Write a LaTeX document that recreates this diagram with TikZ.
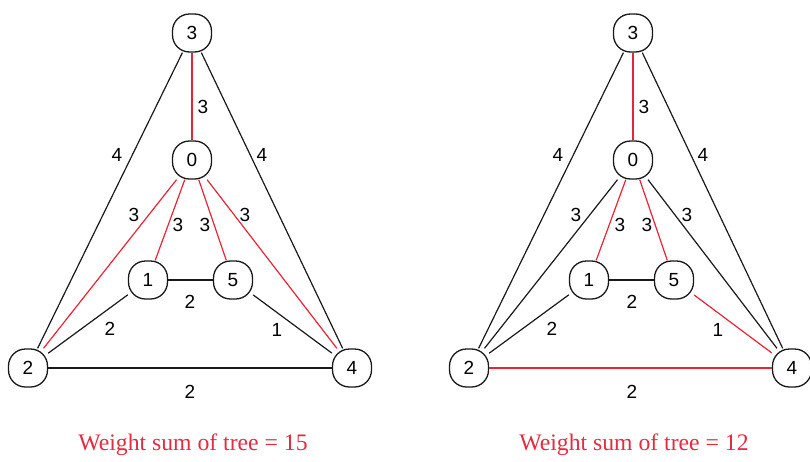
\documentclass[tikz,border=0pt]{standalone}
\usepackage{fontspec}
\setmainfont{Liberation Serif}
\newfontfamily\numfont{Liberation Sans}
\definecolor{treered}{RGB}{228,38,56}
\definecolor{capred}{RGB}{226,44,66}
\definecolor{edgegray}{RGB}{25,25,25}
\begin{document}
\begin{tikzpicture}[x=1pt,y=-1pt,
  vtx/.style={draw=edgegray,line width=1.3pt,fill=white,rounded corners=17pt,minimum width=39pt,minimum height=38pt,inner sep=0pt,font=\numfont\fontsize{19}{19}\selectfont},
  plain/.style={draw=edgegray,line width=1.2pt},
  tree/.style={draw=treered,line width=1.2pt},
  wt/.style={font=\numfont\fontsize{19}{19}\selectfont,inner sep=0pt},
  captext/.style={font=\fontsize{23.7}{23.7}\selectfont,text=capred,inner sep=0pt}]
\useasboundingbox (0,0) rectangle (810,461);
% ---------- left graph ----------
\node[vtx] (L3) at (192,33) {3};
\node[vtx] (L0) at (192,160) {0};
\node[vtx] (L1) at (148,280) {1};
\node[vtx] (L5) at (233,280) {5};
\node[vtx] (L2) at (28,368) {2};
\node[vtx] (L4) at (352,368) {4};
\path[plain] (L3) -- (L2);
\path[plain] (L3) -- (L4);
\path[plain] (L1) -- (L5);
\path[plain] (L1) -- (L2);
\path[plain] (L5) -- (L4);
\path[plain] (L2) -- (L4);
\path[tree] (L3) -- (L0);
\path[tree] (L0) -- (L2);
\path[tree] (L0) -- (L1);
\path[tree] (L0) -- (L5);
\path[tree] (L0) -- (L4);
\node[wt] (lw30) at (203,107) {3};
\node[wt] (lw32) at (117,155) {4};
\node[wt] (lw34) at (262,155) {4};
\node[wt] (lw02) at (134,215) {3};
\node[wt] (lw01) at (178,225) {3};
\node[wt] (lw05) at (205,225) {3};
\node[wt] (lw04) at (245,215) {3};
\node[wt] (lw15) at (190,302) {2};
\node[wt] (lw12) at (110,329) {2};
\node[wt] (lw54) at (277,330) {1};
\node[wt] (lw24) at (190,392) {2};
\node[captext] (lcap) at (193,445) {Weight sum of tree = 15};
% ---------- right graph ----------
\node[vtx] (R3) at (633,33) {3};
\node[vtx] (R0) at (633,160) {0};
\node[vtx] (R1) at (589,280) {1};
\node[vtx] (R5) at (674,280) {5};
\node[vtx] (R2) at (469,368) {2};
\node[vtx] (R4) at (792,368) {4};
\path[plain] (R3) -- (R2);
\path[plain] (R3) -- (R4);
\path[plain] (R1) -- (R5);
\path[plain] (R1) -- (R2);
\path[plain] (R0) -- (R2);
\path[plain] (R0) -- (R4);
\path[tree] (R3) -- (R0);
\path[tree] (R0) -- (R1);
\path[tree] (R0) -- (R5);
\path[tree] (R5) -- (R4);
\path[tree] (R2) -- (R4);
\node[wt] (rw30) at (644,107) {3};
\node[wt] (rw32) at (558,155) {4};
\node[wt] (rw34) at (703,155) {4};
\node[wt] (rw02) at (576,215) {3};
\node[wt] (rw01) at (620,225) {3};
\node[wt] (rw05) at (647,225) {3};
\node[wt] (rw04) at (687,215) {3};
\node[wt] (rw15) at (632,302) {2};
\node[wt] (rw12) at (552,329) {2};
\node[wt] (rw54) at (718,330) {1};
\node[wt] (rw24) at (632,392) {2};
\node[captext] (rcap) at (634,445) {Weight sum of tree = 12};
\end{tikzpicture}
\end{document}
